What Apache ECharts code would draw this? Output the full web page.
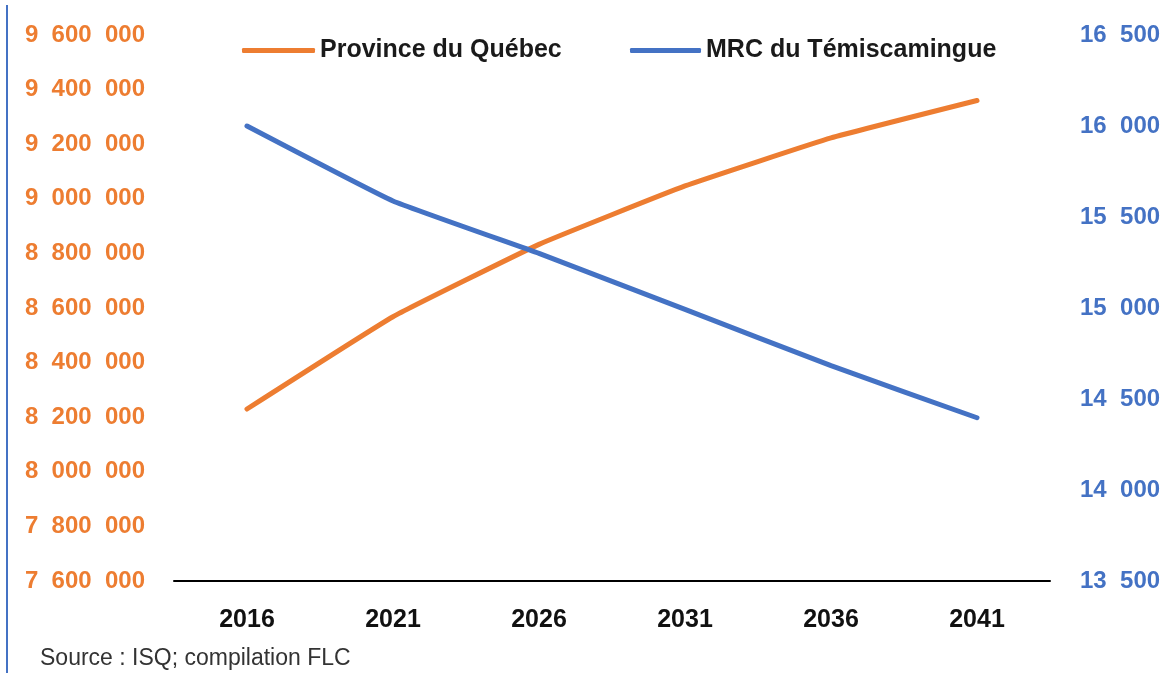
<!DOCTYPE html>
<html>
<head>
<meta charset="utf-8">
<script src="https://cdn.jsdelivr.net/npm/echarts@6/dist/echarts.min.js"></script>
<style>
html,body{margin:0;padding:0;background:#fff;}
#chart{width:1167px;height:673px;}
</style>
</head>
<body>
<div id="chart"></div>
<script>
const years = ['2016', '2021', '2026', '2031', '2036', '2041'];
const quebec = [8230000, 8568000, 8833000, 9047000, 9223000, 9360000];
const temiscamingue = [16000, 15588, 15300, 14992, 14683, 14397];
const leftAxis = { min: 7600000, max: 9600000, interval: 200000 };
const rightAxis = { min: 13500, max: 16500, interval: 500 };
const seriesNames = ['Province du Québec', 'MRC du Témiscamingue'];
const sourceText = 'Source : ISQ; compilation FLC';

const ORANGE = '#ED7D31';
const BLUE = '#4472C4';
const FONT = '"Liberation Sans", Arial, sans-serif';

function fmt(v) {
  return String(Math.round(v)).replace(/\B(?=(\d{3})+(?!\d))/g, '  ');
}

const chart = echarts.init(document.getElementById('chart'), null, { renderer: 'canvas' });
chart.setOption({
  animation: false,
  backgroundColor: '#fff',
  grid: { left: 174, right: 117, top: 35, bottom: 92, containLabel: false, outerBoundsMode: 'none' },
  legend: [
    {
      data: [seriesNames[0]], left: 237, top: 33, itemWidth: 73, itemHeight: 5, itemGap: 4,
      icon: 'roundRect',
      textStyle: { fontFamily: FONT, fontWeight: 'bold', fontSize: 25, color: '#1a1a1a' }
    },
    {
      data: [seriesNames[1]], left: 625, top: 33, itemWidth: 71, itemHeight: 5, itemGap: 4,
      icon: 'roundRect',
      textStyle: { fontFamily: FONT, fontWeight: 'bold', fontSize: 25, color: '#1a1a1a' }
    }
  ],
  xAxis: {
    type: 'category',
    data: years,
    boundaryGap: true,
    axisLine: { lineStyle: { color: '#000', width: 2 } },
    axisTick: { show: false },
    axisLabel: { margin: 27, fontFamily: FONT, fontWeight: 'bold', fontSize: 25, color: '#111' },
    splitLine: { show: false }
  },
  yAxis: [
    {
      type: 'value', position: 'left',
      min: leftAxis.min, max: leftAxis.max, interval: leftAxis.interval,
      axisLine: { show: false }, axisTick: { show: false }, splitLine: { show: false },
      axisLabel: { margin: 29, fontFamily: FONT, fontWeight: 'bold', fontSize: 24, color: ORANGE, formatter: fmt }
    },
    {
      type: 'value', position: 'right',
      min: rightAxis.min, max: rightAxis.max, interval: rightAxis.interval,
      axisLine: { show: false }, axisTick: { show: false }, splitLine: { show: false },
      axisLabel: { margin: 30, fontFamily: FONT, fontWeight: 'bold', fontSize: 24, color: BLUE, formatter: fmt }
    }
  ],
  series: [
    {
      name: seriesNames[0], type: 'line', yAxisIndex: 0, data: quebec,
      showSymbol: false, symbol: 'none', smooth: 0.1,
      lineStyle: { color: ORANGE, width: 5, cap: 'round' }, itemStyle: { color: ORANGE }
    },
    {
      name: seriesNames[1], type: 'line', yAxisIndex: 1, data: temiscamingue,
      showSymbol: false, symbol: 'none', smooth: 0.1,
      lineStyle: { color: BLUE, width: 5, cap: 'round' }, itemStyle: { color: BLUE }
    }
  ],
  graphic: [
    { type: 'rect', shape: { x: 6, y: 5, width: 2, height: 668 }, style: { fill: BLUE } },
    {
      type: 'text', left: 40, top: 647,
      style: { text: sourceText, font: '23px "Liberation Sans", Arial, sans-serif', fill: '#333' }
    }
  ]
});
</script>
</body>
</html>
